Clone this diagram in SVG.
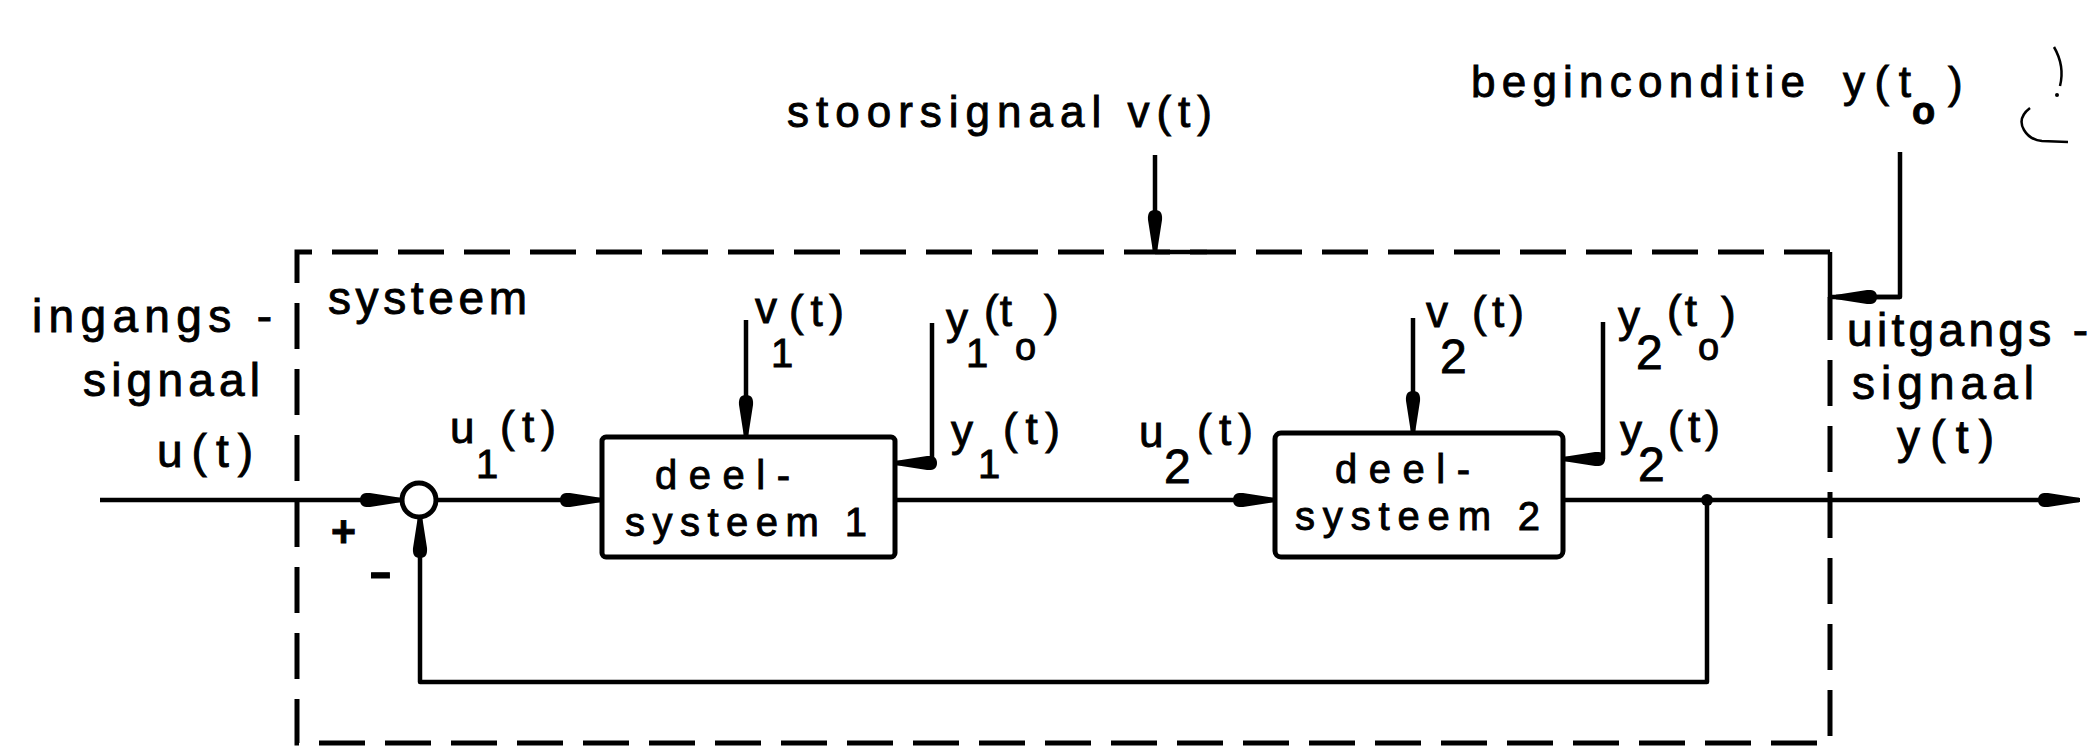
<svg xmlns="http://www.w3.org/2000/svg" width="2092" height="748" viewBox="0 0 2092 748">
<style>
.ln{stroke:#000;stroke-width:4.5;fill:none;stroke-linejoin:round}
.dash{stroke:#000;stroke-width:5;fill:none;stroke-dasharray:46 20}
.blk{fill:#fff;stroke:#000;stroke-width:5}
.t{font-family:"Liberation Sans",Arial,sans-serif;fill:#000;stroke:#000;stroke-width:0.9}
.lg{font-size:46px}
.md{font-size:44px}
.bt{font-size:40px}
.sub{font-size:40px}
.sub2{font-size:48px}
.o{font-size:38px}
.mark{stroke:#000;stroke-width:2.5;fill:none}
</style>
<defs>
<marker id="ah" markerUnits="userSpaceOnUse" viewBox="0 0 42 16" markerWidth="42" markerHeight="16" refX="41" refY="8" orient="auto">
<path d="M0,8 C0,2 4,0.5 10,1 L42,6 L42,10 L10,15 C4,15.5 0,14 0,8 Z" fill="#000"/>
</marker>
</defs>
<rect width="2092" height="748" fill="#fff"/>

<g id="system-boundary">
<path class="dash" d="M1830,252 H297 V743 H1830 V297"/>
<text class="t lg" x="328" y="314" textLength="199" lengthAdjust="spacing">systeem</text>
</g>

<g id="connectors">
<path class="ln" d="M100,500 H401" marker-end="url(#ah)"/>
<path class="ln" d="M436,500 H601" marker-end="url(#ah)"/>
<path class="ln" d="M895,500 H1274" marker-end="url(#ah)"/>
<path class="ln" d="M1563,500 H2079" marker-end="url(#ah)"/>
<path class="ln" d="M1707,500 V682 H420 V517" marker-end="url(#ah)"/>
<circle cx="1707" cy="500" r="6" fill="#000"/>
<path class="ln" d="M746,320 V436" marker-end="url(#ah)"/>
<path class="ln" d="M932,323 V463 H896" marker-end="url(#ah)"/>
<path class="ln" d="M1413,318 V432" marker-end="url(#ah)"/>
<path class="ln" d="M1603,322 V459 H1564" marker-end="url(#ah)"/>
<path class="ln" d="M1155,155 V251" marker-end="url(#ah)"/>
<path class="ln" stroke-width="5" d="M1155,252 H1207"/>
<path class="ln" stroke-width="5" d="M1900,152 V297 H1830 V252"/>
<path class="ln" d="M1900,297 H1836" marker-end="url(#ah)"/>
</g>

<g id="sum">
<circle cx="419" cy="500" r="17" fill="#fff" stroke="#000" stroke-width="5"/>
<text class="t md" x="331" y="547" font-weight="bold" textLength="25" lengthAdjust="spacingAndGlyphs">+</text>
<text class="t md" x="369" y="587" font-weight="bold" textLength="23" lengthAdjust="spacingAndGlyphs">-</text>
</g>

<g id="deelsysteem1">
<rect class="blk" x="602" y="437" width="293" height="120" rx="4"/>
<text class="t bt" x="655" y="489" textLength="135" lengthAdjust="spacing">deel-</text>
<text class="t bt" x="625" y="536" textLength="242" lengthAdjust="spacing">systeem 1</text>
</g>

<g id="deelsysteem2">
<rect class="blk" x="1275" y="433" width="288" height="124" rx="6"/>
<text class="t bt" x="1335" y="483" textLength="135" lengthAdjust="spacing">deel-</text>
<text class="t bt" x="1295" y="530" textLength="245" lengthAdjust="spacing">systeem 2</text>
</g>

<g id="ingangssignaal">
<text class="t lg" x="32" y="332" textLength="240" lengthAdjust="spacing">ingangs -</text>
<text class="t lg" x="83" y="396" textLength="177" lengthAdjust="spacing">signaal</text>
<text class="t lg" x="157" y="467" textLength="96" lengthAdjust="spacing">u(t)</text>
</g>

<g id="uitgangssignaal">
<text class="t lg" x="1847" y="346" textLength="241" lengthAdjust="spacing">uitgangs -</text>
<text class="t lg" x="1852" y="399" textLength="182" lengthAdjust="spacing">signaal</text>
<text class="t lg" x="1897" y="453" textLength="97" lengthAdjust="spacing">y(t)</text>
</g>

<g id="stoorsignaal">
<text class="t md" x="787" y="127" textLength="425" lengthAdjust="spacing">stoorsignaal v(t)</text>
</g>

<g id="beginconditie">
<text class="t md"><tspan x="1471" y="97" textLength="334" lengthAdjust="spacing">beginconditie</tspan><tspan x="1843" y="97" textLength="68" lengthAdjust="spacing">y(t</tspan><tspan class="o" x="1912" y="124" font-weight="bold">o</tspan><tspan x="1948" y="98">)</tspan></text>
<path class="mark" d="M2054,47 Q2065,66 2060,86"/>
<circle cx="2057" cy="95" r="2" fill="#000"/>
<path class="mark" d="M2030,108 Q2017,118 2024,130 Q2030,140 2042,141 L2068,142"/>
</g>

<g id="signal-labels">
<text class="t md"><tspan x="450" y="443">u</tspan><tspan class="sub" x="476" y="478">1</tspan><tspan x="500" y="442" textLength="56" lengthAdjust="spacing">(t)</tspan></text>
<text class="t md"><tspan x="755" y="323">v</tspan><tspan class="sub" x="771" y="367">1</tspan><tspan x="789" y="326" textLength="55" lengthAdjust="spacing">(t)</tspan></text>
<text class="t md"><tspan x="946" y="334">y</tspan><tspan class="sub" x="966" y="367">1</tspan><tspan x="984" y="326" textLength="28" lengthAdjust="spacing">(t</tspan><tspan class="o" x="1015" y="360">o</tspan><tspan x="1044" y="326">)</tspan></text>
<text class="t md"><tspan x="951" y="446">y</tspan><tspan class="sub" x="978" y="478">1</tspan><tspan x="1003" y="444" textLength="57" lengthAdjust="spacing">(t)</tspan></text>
<text class="t md"><tspan x="1139" y="447">u</tspan><tspan class="sub2" x="1164" y="483">2</tspan><tspan x="1197" y="445" textLength="56" lengthAdjust="spacing">(t)</tspan></text>
<text class="t md"><tspan x="1426" y="327">v</tspan><tspan class="sub2" x="1440" y="373">2</tspan><tspan x="1472" y="327" textLength="52" lengthAdjust="spacing">(t)</tspan></text>
<text class="t md"><tspan x="1618" y="332">y</tspan><tspan class="sub2" x="1636" y="369">2</tspan><tspan x="1667" y="326" textLength="30" lengthAdjust="spacing">(t</tspan><tspan class="o" x="1698" y="360">o</tspan><tspan x="1721" y="328">)</tspan></text>
<text class="t md"><tspan x="1620" y="446">y</tspan><tspan class="sub2" x="1638" y="481">2</tspan><tspan x="1668" y="442" textLength="52" lengthAdjust="spacing">(t)</tspan></text>
</g>
</svg>
